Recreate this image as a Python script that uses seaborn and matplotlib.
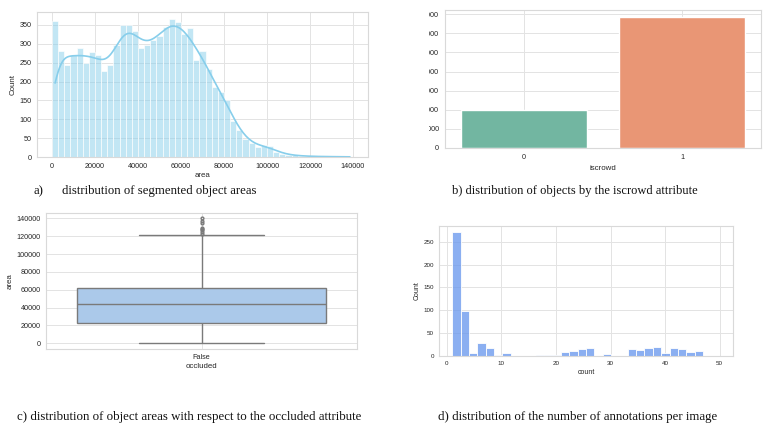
import matplotlib
matplotlib.use("Agg")
import matplotlib.pyplot as plt
from matplotlib.patches import Rectangle
import numpy as np
import pandas as pd
import seaborn as sns

# a) segmented object areas, 49 bins over 0..140000
area_range = (0, 140000)
area_counts = [360, 282, 243, 270, 288, 249, 277, 271, 229, 243,
               296, 350, 349, 335, 290, 296, 310, 320, 345, 366,
               358, 326, 342, 258, 282, 232, 185, 172, 150, 95,
               71, 48, 37, 26, 32, 28, 14, 9, 6, 4,
               3, 2, 2, 1, 1, 1, 1, 0, 1]

# b) objects by iscrowd
iscrowd_labels = ["0", "1"]
iscrowd_counts = [2010, 6880]

# c) area sample for the occluded boxplot (quartiles 22400 / 43700 / 62300)
occluded_area = [500, 3000, 6000, 9000, 12000, 14500, 17000, 19000, 21000,
                 22400, 25000, 28000, 31000, 34000, 36500, 39000, 41000, 42500,
                 43700, 46000, 48500, 51000, 53000, 55000, 57000, 59000, 61000,
                 62300, 121300, 123000, 125000, 126500, 128000, 129500,
                 135000, 137500, 140000]

# d) annotations per image, 32 bins over 1..50
ann_range = (1, 50)
ann_counts = [271, 98, 7, 29, 17, 3, 7, 0, 0, 0,
              2, 2, 2, 8, 11, 16, 17, 1, 4, 1,
              0, 16, 13, 17, 20, 6, 18, 16, 8, 11,
              1, 1]

sns.set_theme(style="whitegrid")
plt.rcParams['font.family'] = ['Liberation Sans', 'DejaVu Sans']

W, H = 772, 432
fig = plt.figure(figsize=(W / 100, H / 100), dpi=100)


def px_axes(left, top, right, bottom):
    return fig.add_axes([left / W, 1 - bottom / H, (right - left) / W, (bottom - top) / H])


def style(ax, size, pad=4.0, xlabelpad=1.5):
    ax.tick_params(labelsize=size, pad=pad, length=0)
    ax.xaxis.label.set_size(size + 0.5)
    ax.yaxis.label.set_size(size + 0.5)
    ax.xaxis.labelpad = xlabelpad
    ax.yaxis.labelpad = 2
    for sp in ax.spines.values():
        sp.set_edgecolor("#d9d9d9")
        sp.set_linewidth(0.8)
    ax.grid(color="#e3e3e3", linewidth=0.7)


# a)
ax_a = px_axes(37, 12, 368, 157)
edges = np.linspace(area_range[0], area_range[1], len(area_counts) + 1)
centers = (edges[:-1] + edges[1:]) / 2
sns.histplot(x=centers, weights=area_counts, bins=len(area_counts),
             binrange=area_range, kde=True, color="skyblue",
             kde_kws={"bw_adjust": 0.33},
             line_kws={"linewidth": 1.2}, ax=ax_a)
ax_a.set_xlabel("area")
ax_a.set_ylabel("Count")
ax_a.set_xticks(np.arange(0, 140001, 20000))
ax_a.set_yticks(np.arange(0, 351, 50))
style(ax_a, 5.2, pad=4.0, xlabelpad=2.0)

# b)
ax_b = px_axes(445, 10, 761, 148)
df_b = pd.DataFrame({"iscrowd": iscrowd_labels, "count": iscrowd_counts})
sns.barplot(data=df_b, x="iscrowd", y="count", hue="iscrowd",
            palette="Set2", legend=False, ax=ax_b)
ax_b.set_yticks(np.arange(0, 7001, 1000))
ax_b.set_ylabel("count")
style(ax_b, 5.2, pad=4.3, xlabelpad=3.0)

# c)
ax_c = px_axes(46, 213, 357, 349)
df_c = pd.DataFrame({"area": occluded_area, "occluded": False})
sns.boxplot(data=df_c, x="occluded", y="area", color="#a1c9f4",
            linewidth=1.0, fliersize=2, ax=ax_c)
ax_c.set_ylim(-6400, 146000)
ax_c.set_yticks(np.arange(0, 140001, 20000))
style(ax_c, 5.2, pad=3.8, xlabelpad=1.5)

# d)
ax_d = px_axes(439, 226, 733, 356)
ann_edges = np.linspace(ann_range[0], ann_range[1], len(ann_counts) + 1)
ann_centers = (ann_edges[:-1] + ann_edges[1:]) / 2
sns.histplot(x=ann_centers, weights=ann_counts, bins=len(ann_counts),
             binrange=ann_range, color="cornflowerblue", ax=ax_d)
ax_d.set_xlabel("count")
ax_d.set_ylabel("Count")
ax_d.set_xticks(np.arange(0, 51, 10))
ax_d.set_yticks(np.arange(0, 251, 50))
style(ax_d, 4.5, pad=3.5, xlabelpad=2.0)

# panel b was cropped on the left in the source image
fig.add_artist(Rectangle((386 / W, 1 - 200 / H), 43 / W, 200 / H,
                         transform=fig.transFigure, facecolor="white",
                         edgecolor="none", zorder=10))

cap = dict(family=["Liberation Serif", "DejaVu Serif"],
           color="#111111", va="center", ha="left")
fig.text(33 / W, 1 - 191 / H, "a)", fontsize=9.2, **cap)
fig.text(62 / W, 1 - 191 / H, "distribution of segmented object areas", fontsize=9.2, **cap)
fig.text(452 / W, 1 - 191 / H, "b) distribution of objects by the iscrowd attribute",
         fontsize=9, **cap)
fig.text(17 / W, 1 - 417 / H,
         "c) distribution of object areas with respect to the occluded attribute",
         fontsize=9.25, **cap)
fig.text(438 / W, 1 - 417 / H,
         "d) distribution of the number of annotations per image", fontsize=9.25, **cap)

fig.savefig("out.png", dpi=100)
